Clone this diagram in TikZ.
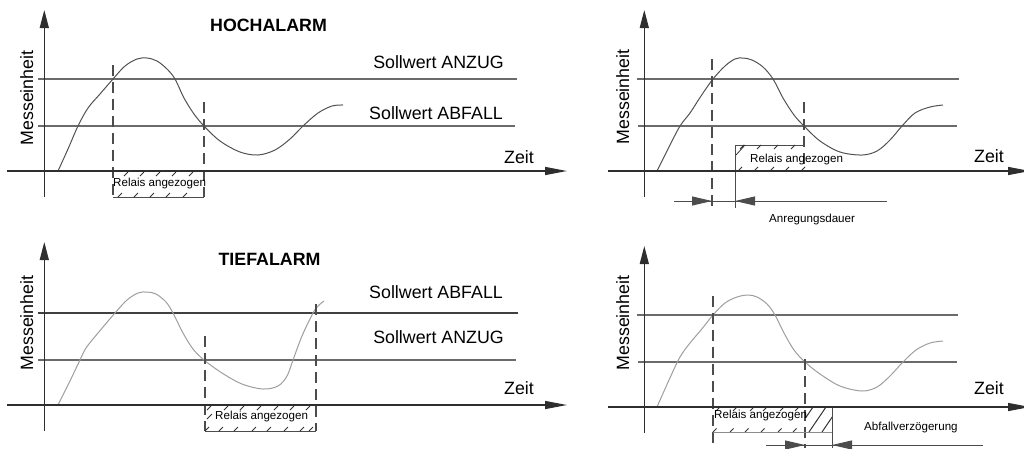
\documentclass[tikz,border=0pt]{standalone}
\usepackage{fontspec}
\setmainfont{Liberation Sans}
\usetikzlibrary{arrows.meta}
\newcommand\hatchrow[3]{\foreach \hx in {#1} \draw[hatch] (\hx,#2) -- ++(#3,-#3);}
\begin{document}
\begin{tikzpicture}[x=1pt,y=-1pt,
  axis/.style={draw=black!82, line width=1.3pt},
  yax/.style={axis,-{Triangle[length=18pt,width=9pt]}},
  xax/.style={axis,-{Triangle[length=22pt,width=8pt]}},
  level/.style={draw=black!58, line width=1.1pt},
  leveldark/.style={draw=black!75, line width=1.5pt},
  curveA/.style={draw=black!68, line width=1pt},
  curveB/.style={draw=black!38, line width=1pt},
  vdash/.style={draw=black!70, line width=1.1pt, dash pattern=on 11pt off 6pt},
  boxline/.style={draw=black!70, line width=1pt},
  hatch/.style={draw=black!80, line width=0.8pt},
  big/.style={font=\fontsize{17.8}{20}\selectfont, inner sep=0pt},
  title/.style={font=\fontsize{17.8}{20}\selectfont\bfseries, inner sep=0pt},
  small/.style={font=\fontsize{11.6}{13}\selectfont, inner sep=0pt},
  dimline/.style={draw=black!70, line width=1pt},
  dimarrow/.style={draw=black!70, line width=1pt, -{Triangle[length=20pt,width=9pt]}},
]
\useasboundingbox (0,0) rectangle (1024,448);

% ================= Panel 1: HOCHALARM =================
\draw[level] (38,79) -- (517,79);
\draw[level] (38,126) -- (515,126);
\draw[curveA] plot[smooth, tension=0.55] coordinates {(58,171) (68,149) (78,126) (88,108) (100,94) (113,79) (125,66) (137,59) (147,58) (157,61) (167,69) (175,79) (184,98) (194,114) (204,126) (220,141) (240,152) (258,155) (275,150) (290,139) (303,126) (318,113) (332,106) (343,105)};
\draw[vdash] (113,65) -- (113,197);
\draw[vdash] (204,102) -- (204,197);
\draw[boxline] (113,197) -- (204,197);
\hatchrow{124,140,156,172,189}{176}{4}
\hatchrow{118,134,150,166,183}{197}{4}
\draw[xax] (7,171) -- (567,171);
\draw[yax] (44.3,197) -- (44.3,10);
\node[title, anchor=base] (h1) at (268.5,31) {HOCHALARM};
\node[big, anchor=base east] (s1a) at (504,68) {Sollwert ANZUG};
\node[big, anchor=base east] (s1b) at (503,119) {Sollwert ABFALL};
\node[big, anchor=base west] (z1) at (504,163) {Zeit};
\node[big, rotate=90, anchor=base] (m1) at (33,98) {Messeinheit};
\node[small, anchor=base west] (r1) at (113,186) {Relais angezogen};

% ================= Panel 2: TIEFALARM =================
\draw[leveldark] (38,313) -- (518,313);
\draw[level] (38,360) -- (516,360);
\draw[curveB] plot[smooth, tension=0.55] coordinates {(58,405) (69,383) (80,360) (86,348) (98,333) (115,313) (127,300) (138,293) (147,292) (156,294) (166,302) (173,313) (183,333) (193,349) (204,360) (222,373) (242,384) (263,389) (278,386) (287,376) (293,360) (302,336) (313,313) (318,306) (324,301)};
\draw[vdash] (205,336) -- (205,431);
\draw[vdash] (316,304) -- (316,431);
\draw[boxline] (205,431) -- (316,431);
\hatchrow{207,224,240,257,274,290,306}{410}{4}
\hatchrow{205,219,234,252,267,284,300,309}{431}{4}
\draw[hatch] (207,419) -- ++(5,-5);
\draw[xax] (7,405) -- (567,405);
\draw[yax] (44.3,431) -- (44.3,242);
\node[title, anchor=base] (h2) at (269.5,265) {TIEFALARM};
\node[big, anchor=base east] (s2a) at (503,298) {Sollwert ABFALL};
\node[big, anchor=base east] (s2b) at (504,343) {Sollwert ANZUG};
\node[big, anchor=base west] (z2) at (504,394) {Zeit};
\node[big, rotate=90, anchor=base] (m2) at (33,323) {Messeinheit};
\node[small, anchor=base west] (r2) at (215,419) {Relais angezogen};

% ================= Panel 3: Anregungsdauer =================
\draw[level] (637,79) -- (959,79);
\draw[level] (638,126) -- (957,126);
\draw[curveA] plot[smooth, tension=0.55] coordinates {(657,171) (669,147) (680,126) (690,113) (701,96) (713,79) (725,66) (735,59) (743,58) (752,60) (763,67) (773,79) (783,98) (794,115) (804,126) (820,141) (840,152) (862,155) (877,151) (890,140) (902,126) (915,113) (930,107) (943,105)};
\draw[vdash] (712,59) -- (712,211);
\draw[vdash] (804,102) -- (804,171);
\draw[boxline] (735,208) -- (735,145) -- (804,145);
\hatchrow{740,757,774,791}{149}{4}
\hatchrow{738,754,770,785,801}{171}{4}
\draw[hatch] (736,155) -- (745,145);
\draw[xax] (608,171) -- (1030,171);
\draw[yax] (644.3,197) -- (644.3,10);
\coordinate (d3l) at (674,201);
\coordinate (d3a) at (712,201);
\coordinate (d3b) at (735,201);
\coordinate (d3r) at (887,201);
\draw[dimline] (d3l) -- (d3r);
\draw[dimarrow] (d3l) -- (d3a);
\draw[dimarrow] (d3r) -- (d3b);
\node[big, anchor=base west] (z3) at (974,162) {Zeit};
\node[big, rotate=90, anchor=base] (m3) at (629,97) {Messeinheit};
\node[small, anchor=base west] (r3) at (750,162) {Relais angezogen};
\node[small, anchor=base west] (a3) at (769,222) {Anregungsdauer};

% ================= Panel 4: Abfallverzoegerung =================
\draw[level] (637,315) -- (958,315);
\draw[level] (638,362) -- (957,362);
\draw[curveB] plot[smooth, tension=0.55] coordinates {(657,407) (669,380) (680,357) (690,343) (701,330) (713,315) (725,303) (737,297) (748,295) (757,297) (767,304) (775,315) (784,333) (794,350) (805,362) (820,374) (840,386) (862,391) (877,387) (890,376) (903,362) (916,350) (930,343) (943,341)};
\begin{scope}
  \clip (805,407) rectangle (832,432);
  \foreach \o in {-22,-9,4,17,30} \draw[hatch, line width=1pt] (805+\o,432) -- ++(17,-25);
\end{scope}
\draw[vdash] (713,296) -- (713,448);
\draw[vdash] (805,359) -- (805,448);
\draw[boxline] (832,407) -- (832,448);
\draw[draw=black!45, line width=0.8pt] (713,432) -- (832,432);
\hatchrow{716,733,750,763,780,795}{411}{4}
\hatchrow{713,730,745,761,778,793}{432}{3.5}
\draw[xax] (608,407) -- (1030,407);
\draw[yax] (644.3,433) -- (644.3,246);
\coordinate (d4l) at (766,445);
\coordinate (d4a) at (805,445);
\coordinate (d4b) at (832,445);
\coordinate (d4r) at (983,445);
\draw[dimline] (d4l) -- (d4r);
\draw[dimarrow] (d4l) -- (d4a);
\draw[dimarrow] (d4r) -- (d4b);
\node[big, anchor=base west] (z4) at (974,394) {Zeit};
\node[big, rotate=90, anchor=base] (m4) at (629,323) {Messeinheit};
\node[small, anchor=base west] (r4) at (714,418) {Relais angezogen};
\node[small, anchor=base west] (a4) at (864,430) {Abfallverzögerung};
\end{tikzpicture}
\end{document}
